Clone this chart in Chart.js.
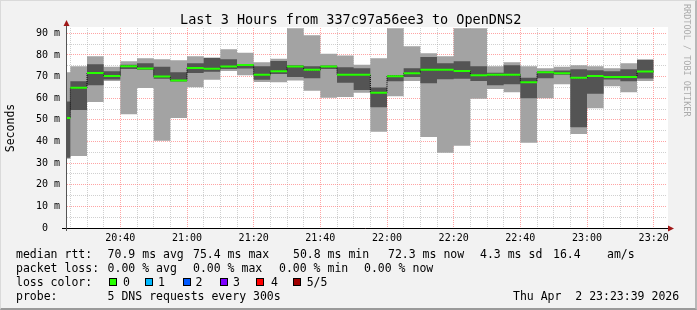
<!DOCTYPE html>
<html>
<head>
<meta charset="utf-8">
<script src="https://cdn.jsdelivr.net/npm/chart.js@4.4.1/dist/chart.umd.min.js"></script>
<style>
  html, body { margin: 0; padding: 0; background: #f2f2f2; }
  #frame { position: relative; width: 697px; height: 310px; overflow: hidden;
           font-family: "DejaVu Sans Mono", monospace; color: #000; }
  #c { position: absolute; left: 0; top: 0; }
  #title { position: absolute; left: 180px; top: 11px; font-size: 13.5px; line-height: 16px; white-space: pre; }
  #credit { position: absolute; left: 682px; top: 4px; font-size: 8.5px; color: #ababab;
            writing-mode: vertical-rl; white-space: pre; }
  .lg { position: absolute; font-size: 11.5px; line-height: 14px; white-space: pre; }
  .box { position: absolute; width: 6px; height: 6px; border: 1px solid #000; }
  #edge { position: absolute; left: 0; top: 0; width: 697px; height: 310px; box-sizing: border-box;
          border-top: 1px solid #dadada; border-left: 1px solid #dadada;
          border-right: 2px solid #b8b8b8; border-bottom: 2px solid #9a9a9a; pointer-events: none; }
</style>
</head>
<body>
<div id="frame">
  <canvas id="c" width="697" height="310"></canvas>
  <div id="title">Last 3 Hours from 337c97a56ee3 to OpenDNS2</div>
  <div id="credit">RRDTOOL / TOBI OETIKER</div>
  <div id="legend"></div>
  <div id="edge"></div>
</div>
<script>
// 5 minute bins (first one is partial), times of day
const binStart = ['20:24', '20:25', '20:30', '20:35', '20:40', '20:45', '20:50', '20:55',
    '21:00', '21:05', '21:10', '21:15', '21:20', '21:25', '21:30', '21:35', '21:40', '21:45',
    '21:50', '21:55', '22:00', '22:05', '22:10', '22:15', '22:20', '22:25', '22:30', '22:35',
    '22:40', '22:45', '22:50', '22:55', '23:00', '23:05', '23:10', '23:15'];
const lastBinEnd = '23:20';
const graphStart = '20:24';
const graphEnd = '23:24';

// sorted pings per bin, in ms
const pingMin = [32, 33.3, 58.2, 68, 52.6, 64.7, 40.3, 50.9, 65.1, 68.5, 72.6, 70.6, 67.5, 67.4,
    68.2, 63.4, 60.2, 60.5, 62.5, 44.5, 60.9, 68, 42.1, 34.8, 38, 59.7, 64.3, 62.8, 39.4, 60,
    66.5, 43.4, 55.4, 65.5, 62.8, 68];
const ping2 = [32.5, 54.5, 66, 68.6, 73.5, 73.1, 69, 67.7, 71.7, 72.2, 73.5, 73.7, 68.5, 71.2,
    69.8, 69.2, 73.5, 67.1, 63.8, 55.8, 67.8, 69.8, 66.9, 68.8, 69, 68, 66, 66.5, 60, 69.2,
    70.8, 46.6, 62, 68.6, 67.8, 69.1];
const median = [50.8, 64.8, 71.7, 70.3, 74.8, 73.7, 70, 68.2, 74, 73.6, 74.6, 75.4, 70.8, 72.5,
    74.6, 73.1, 74.6, 70.8, 70.8, 62.5, 70.2, 71.5, 73.1, 73.1, 72.6, 70.6, 70.8, 70.8, 67.4, 72,
    71.5, 69.4, 70.3, 69.8, 69.8, 72.3];
const ping4 = [58.5, 67.8, 75.7, 72.5, 75.5, 76.2, 74.5, 72, 76.2, 78.6, 78, 75.6, 74.8, 77.2,
    75.2, 74.8, 75.1, 74.3, 73.8, 64.9, 70.6, 73.8, 79.1, 76.2, 77.1, 74.8, 71.8, 75.2, 69.5, 72.5,
    72.8, 73.4, 72.9, 72.5, 73.4, 77.7];
const pingMax = [72, 74.8, 79.4, 74.5, 77.1, 78.5, 78, 77.5, 79.4, 78.8, 82.6, 81, 76.6, 78.2,
    92.3, 89.1, 80.6, 79.7, 75.5, 78.5, 92.3, 84, 80.8, 79.4, 92.3, 92.3, 74.8, 76.6, 74.8, 73.8,
    74.5, 75.2, 74.8, 73.8, 76.2, 78];

const lossColors = ['#26ff00', '#00b8ff', '#0059ff', '#7e00ff', '#ff0000', '#a00000'];
const lossLabels = ['0', '1', '2', '3', '4', '5/5'];

const FONT = '"DejaVu Sans Mono", monospace';
const lightSmoke = '#a3a3a3';
const darkSmoke = '#545454';
const majorGrid = 'rgba(255,95,95,0.57)';
const minorGrid = 'rgba(150,150,150,0.45)';

const toMin = s => {
    const p = s.split(':').map(Number);
    return (p[0] - 20) * 60 + p[1] + (p[2] || 0) / 60;
};
const fmt = v => {
    const h = 20 + Math.floor(v / 60);
    const m = `${v % 60}`.padStart(2, '0');
    return `${h}:${m}`;
};

const starts = binStart.map(toMin);
const ends = starts.slice(1).concat([toMin(lastBinEnd)]);

// stepped series: value i holds from starts[i] to starts[i+1]
function stepped(values) {
    const pts = values.map((v, i) => ({ x: starts[i], y: v }));
    pts.push({ x: ends[ends.length - 1], y: values[values.length - 1] });
    return pts;
}

const medianSegments = [];
median.forEach((m, i) => {
    medianSegments.push({ x: starts[i], y: m }, { x: ends[i], y: m }, { x: ends[i], y: null });
});

const gridMinutes = [];
for (let t = 25; t <= 200; t += 5) gridMinutes.push(t);
const yGrid = [];
for (let v = 0; v <= 90; v += 5) yGrid.push(v);

const hidden = { borderColor: 'rgba(0,0,0,0)', borderWidth: 0, pointRadius: 0, stepped: true };

const axisDeco = {
    id: 'axisDeco',
    beforeDraw(chart) {
        const { ctx, chartArea: a } = chart;
        ctx.save();
        ctx.fillStyle = '#fff';
        ctx.fillRect(a.left, a.top - 1, a.right - a.left + 1, a.bottom - a.top + 1);
        ctx.restore();
    },
    afterDraw(chart) {
        const { ctx, chartArea: a } = chart;
        ctx.save();
        ctx.lineWidth = 1;
        ctx.strokeStyle = '#000';
        ctx.beginPath();
        ctx.moveTo(a.left - 5, a.bottom + 0.5);
        ctx.lineTo(a.right + 2, a.bottom + 0.5);
        ctx.stroke();
        ctx.strokeStyle = '#555';
        ctx.beginPath();
        ctx.moveTo(a.left - 0.5, a.bottom + 3);
        ctx.lineTo(a.left - 0.5, a.top - 3);
        ctx.stroke();
        ctx.fillStyle = '#a01818';
        ctx.beginPath();
        ctx.moveTo(a.right + 1, a.bottom - 2.5);
        ctx.lineTo(a.right + 7, a.bottom + 0.5);
        ctx.lineTo(a.right + 1, a.bottom + 3.5);
        ctx.fill();
        ctx.beginPath();
        ctx.moveTo(a.left - 3.5, a.top - 2);
        ctx.lineTo(a.left - 0.5, a.top - 8);
        ctx.lineTo(a.left + 2.5, a.top - 2);
        ctx.fill();
        ctx.restore();
    }
};

new Chart(document.getElementById('c'), {
    type: 'line',
    data: {
        datasets: [
            { data: stepped(pingMax), fill: '+1', backgroundColor: lightSmoke, order: 4, ...hidden },
            { data: stepped(pingMin), fill: false, order: 5, ...hidden },
            { data: stepped(ping4), fill: '+1', backgroundColor: darkSmoke, order: 2, ...hidden },
            { data: stepped(ping2), fill: false, order: 3, ...hidden },
            { data: stepped(median), fill: false, stepped: true, borderColor: '#000', borderWidth: 1,
              borderDash: [1, 1], pointRadius: 0, order: 1 },
            { data: medianSegments, fill: false, borderColor: lossColors[0], borderWidth: 2,
              pointRadius: 0, spanGaps: false, order: 0 }
        ]
    },
    options: {
        responsive: false,
        animation: false,
        devicePixelRatio: 1,
        layout: { padding: { top: 28, right: 30, bottom: 0, left: 0 } },
        plugins: { legend: { display: false }, tooltip: { enabled: false }, title: { display: false } },
        scales: {
            x: {
                type: 'linear',
                min: toMin(graphStart),
                max: toMin(graphEnd),
                afterBuildTicks: s => { s.ticks = gridMinutes.map(v => ({ value: v })); },
                afterFit: s => { s.height = 82; },
                grid: {
                    color: c => (c.tick && c.tick.value % 20 === 0 ? majorGrid : minorGrid),
                    drawTicks: false,
                    lineWidth: 1
                },
                border: { display: false, dash: [1, 1] },
                ticks: {
                    autoSkip: false, maxRotation: 0, padding: 4, color: '#000',
                    font: { family: FONT, size: 10 },
                    callback: v => (v % 20 === 0 ? fmt(v) : '')
                }
            },
            y: {
                min: 0,
                max: 92.45,
                afterBuildTicks: s => { s.ticks = yGrid.map(v => ({ value: v })); },
                afterFit: s => { s.width = 67; },
                grid: {
                    color: c => (c.tick && c.tick.value % 10 === 0 ? majorGrid : minorGrid),
                    drawTicks: false,
                    lineWidth: 1
                },
                border: { display: false, dash: [1, 1] },
                ticks: {
                    autoSkip: false, padding: 7, color: '#000',
                    font: { family: FONT, size: 10 },
                    callback: v => (v % 10 !== 0 ? '' : v === 0 ? '0  ' : `${v} m`)
                },
                title: {
                    display: true, text: 'Seconds', color: '#000',
                    font: { family: FONT, size: 11.5 },
                    padding: { top: 4, bottom: 0 }
                }
            }
        }
    },
    plugins: [axisDeco]
});

// legend block under the graph
const legendRows = [
    { y: 247, items: [[16, 'median rtt:'], [107.6, '70.9 ms avg'], [193, '75.4 ms max'], [293, '50.8 ms min'],
        [388, '72.3 ms now'], [480, '4.3 ms sd'], [553, '16.4'], [607, 'am/s']] },
    { y: 261, items: [[16, 'packet loss:'], [107.6, '0.00 % avg'], [193, '0.00 % max'], [279, '0.00 % min'],
        [364, '0.00 % now']] },
    { y: 275, items: [[16, 'loss color:']] },
    { y: 289, items: [[16, 'probe:'], [107.6, '5 DNS requests every 300s'], [513, 'Thu Apr  2 23:23:39 2026']] }
];
const boxX = [109, 145, 182.7, 219.6, 256.4, 293];
const boxLabelX = [123, 158, 195.6, 233, 271, 306.7];

const legend = document.getElementById('legend');
legendRows.forEach(row => {
    row.items.forEach(([x, text]) => {
        const d = document.createElement('div');
        d.className = 'lg';
        d.style.left = x + 'px';
        d.style.top = row.y + 'px';
        d.textContent = text;
        legend.appendChild(d);
    });
});
lossColors.forEach((col, i) => {
    const b = document.createElement('div');
    b.className = 'box';
    b.style.left = boxX[i] + 'px';
    b.style.top = '278px';
    b.style.background = col;
    legend.appendChild(b);
    const t = document.createElement('div');
    t.className = 'lg';
    t.style.left = boxLabelX[i] + 'px';
    t.style.top = '275px';
    t.textContent = lossLabels[i];
    legend.appendChild(t);
});
</script>
</body>
</html>
